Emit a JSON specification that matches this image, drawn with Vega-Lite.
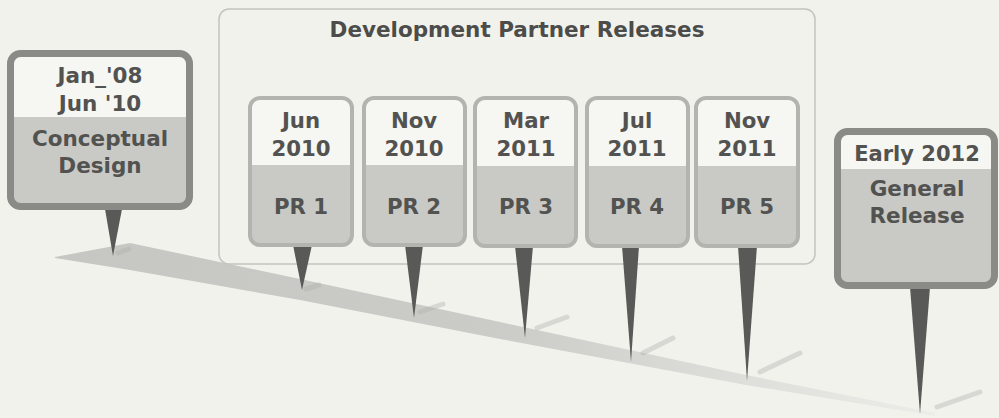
{
  "$schema": "https://vega.github.io/schema/vega-lite/v6.json",
  "width": 999,
  "height": 418,
  "autosize": {"type": "fit", "contains": "padding"},
  "padding": 0,
  "background": "#f2f2ed",
  "config": {"view": {"stroke": null}, "axis": {"disable": true}, "legend": {"disable": true}},
  "datasets": {
    "band": [
      {"x": 55, "y": 257, "y2": 258},
      {"x": 130, "y": 243, "y2": 270},
      {"x": 300, "y": 279, "y2": 300},
      {"x": 500, "y": 322, "y2": 339},
      {"x": 746, "y": 375, "y2": 385},
      {"x": 935, "y": 413, "y2": 416}
    ],
    "panel": [
      {"title": "Development Partner Releases", "x": 219, "x2": 815, "y": 9, "y2": 264, "tx": 517, "ty": 31}
    ],
    "shadows": [
      {"id": "C", "x": 118, "y": 253, "x2": 129, "y2": 249},
      {"id": "PR1", "x": 306, "y": 289, "x2": 319, "y2": 285},
      {"id": "PR2", "x": 420, "y": 312, "x2": 443, "y2": 304},
      {"id": "PR3", "x": 537, "y": 328, "x2": 567, "y2": 317},
      {"id": "PR4", "x": 643, "y": 353, "x2": 673, "y2": 338},
      {"id": "PR5", "x": 760, "y": 372, "x2": 800, "y2": 353},
      {"id": "GR", "x": 937, "y": 407, "x2": 980, "y2": 392}
    ],
    "pins": [
      {"id": "C", "y": 209, "xl": 105, "xr": 122},
      {"id": "C", "y": 256, "xl": 113, "xr": 113},
      {"id": "PR1", "y": 245, "xl": 293, "xr": 312},
      {"id": "PR1", "y": 290, "xl": 302, "xr": 302},
      {"id": "PR2", "y": 245, "xl": 405, "xr": 423},
      {"id": "PR2", "y": 318, "xl": 414, "xr": 414},
      {"id": "PR3", "y": 246, "xl": 515, "xr": 533},
      {"id": "PR3", "y": 338, "xl": 525, "xr": 525},
      {"id": "PR4", "y": 246, "xl": 622, "xr": 639},
      {"id": "PR4", "y": 362, "xl": 631, "xr": 631},
      {"id": "PR5", "y": 246, "xl": 738, "xr": 757},
      {"id": "PR5", "y": 381, "xl": 747, "xr": 747},
      {"id": "GR", "y": 287, "xl": 910, "xr": 930},
      {"id": "GR", "y": 414, "xl": 920, "xr": 920}
    ],
    "boxes": [
      {"id": "C", "kind": "main", "x": 10.5, "x2": 189.5, "y": 53.5, "y2": 206.5, "ys": 117},
      {"id": "PR1", "kind": "pr", "x": 250, "x2": 352, "y": 98, "y2": 245, "ys": 165},
      {"id": "PR2", "kind": "pr", "x": 364, "x2": 465, "y": 98, "y2": 245, "ys": 165},
      {"id": "PR3", "kind": "pr", "x": 475, "x2": 576, "y": 98, "y2": 246, "ys": 166},
      {"id": "PR4", "kind": "pr", "x": 587, "x2": 688, "y": 98, "y2": 246, "ys": 166},
      {"id": "PR5", "kind": "pr", "x": 696, "x2": 798, "y": 98, "y2": 246, "ys": 166},
      {"id": "GR", "kind": "main", "x": 837.5, "x2": 994.5, "y": 131.5, "y2": 285.5, "ys": 169}
    ],
    "labels": [
      {"text": "Jan_'08", "x": 100, "y": 77, "role": "main"},
      {"text": "Jun '10", "x": 100, "y": 105, "role": "main"},
      {"text": "Conceptual", "x": 100, "y": 140, "role": "main"},
      {"text": "Design", "x": 100, "y": 167, "role": "main"},
      {"text": "Jun", "x": 301, "y": 122, "role": "pr"},
      {"text": "2010", "x": 301, "y": 150, "role": "pr"},
      {"text": "PR 1", "x": 301, "y": 208, "role": "pr"},
      {"text": "Nov", "x": 414, "y": 122, "role": "pr"},
      {"text": "2010", "x": 414, "y": 150, "role": "pr"},
      {"text": "PR 2", "x": 414, "y": 208, "role": "pr"},
      {"text": "Mar", "x": 526, "y": 122, "role": "pr"},
      {"text": "2011", "x": 526, "y": 150, "role": "pr"},
      {"text": "PR 3", "x": 526, "y": 208, "role": "pr"},
      {"text": "Jul", "x": 637, "y": 122, "role": "pr"},
      {"text": "2011", "x": 637, "y": 150, "role": "pr"},
      {"text": "PR 4", "x": 637, "y": 208, "role": "pr"},
      {"text": "Nov", "x": 747, "y": 122, "role": "pr"},
      {"text": "2011", "x": 747, "y": 150, "role": "pr"},
      {"text": "PR 5", "x": 747, "y": 208, "role": "pr"},
      {"text": "Early 2012", "x": 917, "y": 155, "role": "small"},
      {"text": "General", "x": 917, "y": 190, "role": "main"},
      {"text": "Release", "x": 917, "y": 217, "role": "main"}
    ]
  },
  "layer": [
    {
      "data": {"name": "band"},
      "mark": {
        "type": "area",
        "fill": {
          "gradient": "linear", "x1": 0, "y1": 0, "x2": 1, "y2": 0,
          "stops": [
            {"offset": 0, "color": "#c6c6c2"},
            {"offset": 0.5, "color": "#cbcbc7"},
            {"offset": 1, "color": "#ecece8"}
          ]
        }
      },
      "encoding": {
        "x": {"field": "x", "type": "quantitative", "scale": {"domain": [0, 999], "nice": false, "zero": false}},
        "y": {"field": "y", "type": "quantitative", "scale": {"domain": [0, 418], "nice": false, "zero": false, "reverse": true}},
        "y2": {"field": "y2"}
      }
    },
    {
      "data": {"name": "shadows"},
      "mark": {"type": "rule", "color": "#b0b0ac", "strokeWidth": 5, "opacity": 0.4, "strokeCap": "round"},
      "encoding": {
        "x": {"field": "x", "type": "quantitative", "scale": {"domain": [0, 999], "nice": false, "zero": false}},
        "y": {"field": "y", "type": "quantitative", "scale": {"domain": [0, 418], "nice": false, "zero": false, "reverse": true}},
        "x2": {"field": "x2"},
        "y2": {"field": "y2"}
      }
    },
    {
      "data": {"name": "panel"},
      "mark": {"type": "rect", "fill": null, "fillOpacity": 0, "stroke": "#c3c3bf", "strokeWidth": 1.5, "cornerRadius": 10},
      "encoding": {
        "x": {"field": "x", "type": "quantitative", "scale": {"domain": [0, 999], "nice": false, "zero": false}},
        "x2": {"field": "x2"},
        "y": {"field": "y", "type": "quantitative", "scale": {"domain": [0, 418], "nice": false, "zero": false, "reverse": true}},
        "y2": {"field": "y2"}
      }
    },
    {
      "data": {"name": "panel"},
      "mark": {"type": "text", "font": "DejaVu Sans", "fontWeight": "bold", "fontSize": 21.5, "color": "#4c4c4a", "baseline": "middle", "align": "center"},
      "encoding": {
        "x": {"field": "tx", "type": "quantitative", "scale": {"domain": [0, 999], "nice": false, "zero": false}},
        "y": {"field": "ty", "type": "quantitative", "scale": {"domain": [0, 418], "nice": false, "zero": false, "reverse": true}},
        "text": {"field": "title"}
      }
    },
    {
      "data": {"name": "pins"},
      "mark": {"type": "area", "color": "#595957", "orient": "horizontal"},
      "encoding": {
        "y": {"field": "y", "type": "quantitative", "scale": {"domain": [0, 418], "nice": false, "zero": false, "reverse": true}},
        "x": {"field": "xl", "type": "quantitative", "scale": {"domain": [0, 999], "nice": false, "zero": false}},
        "x2": {"field": "xr"},
        "detail": {"field": "id"}
      }
    },
    {
      "data": {"name": "boxes"},
      "mark": {"type": "rect", "fill": "#f6f6f2", "cornerRadius": 10},
      "encoding": {
        "x": {"field": "x", "type": "quantitative", "scale": {"domain": [0, 999], "nice": false, "zero": false}},
        "x2": {"field": "x2"},
        "y": {"field": "y", "type": "quantitative", "scale": {"domain": [0, 418], "nice": false, "zero": false, "reverse": true}},
        "y2": {"field": "y2"}
      }
    },
    {
      "data": {"name": "boxes"},
      "mark": {"type": "rect", "fill": "#c9c9c5", "cornerRadiusBottomLeft": 10, "cornerRadiusBottomRight": 10},
      "encoding": {
        "x": {"field": "x", "type": "quantitative", "scale": {"domain": [0, 999], "nice": false, "zero": false}},
        "x2": {"field": "x2"},
        "y": {"field": "ys", "type": "quantitative", "scale": {"domain": [0, 418], "nice": false, "zero": false, "reverse": true}},
        "y2": {"field": "y2"}
      }
    },
    {
      "data": {"name": "boxes"},
      "mark": {"type": "rect", "fill": null, "fillOpacity": 0, "cornerRadius": 10},
      "encoding": {
        "x": {"field": "x", "type": "quantitative", "scale": {"domain": [0, 999], "nice": false, "zero": false}},
        "x2": {"field": "x2"},
        "y": {"field": "y", "type": "quantitative", "scale": {"domain": [0, 418], "nice": false, "zero": false, "reverse": true}},
        "y2": {"field": "y2"},
        "stroke": {"field": "kind", "type": "nominal", "scale": {"domain": ["main", "pr"], "range": ["#8a8a86", "#b3b3af"]}, "legend": null},
        "strokeWidth": {"field": "kind", "type": "nominal", "scale": {"domain": ["main", "pr"], "range": [7, 4]}, "legend": null}
      }
    },
    {
      "data": {"name": "labels"},
      "mark": {"type": "text", "font": "DejaVu Sans", "fontWeight": "bold", "color": "#525250", "baseline": "middle", "align": "center"},
      "encoding": {
        "x": {"field": "x", "type": "quantitative", "scale": {"domain": [0, 999], "nice": false, "zero": false}},
        "y": {"field": "y", "type": "quantitative", "scale": {"domain": [0, 418], "nice": false, "zero": false, "reverse": true}},
        "text": {"field": "text"},
        "size": {"field": "role", "type": "nominal", "scale": {"domain": ["main", "pr", "small"], "range": [21.5, 21, 18.5]}, "legend": null}
      }
    }
  ]
}
